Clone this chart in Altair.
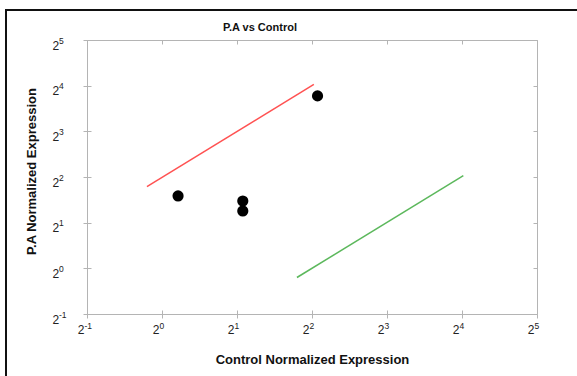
import altair as alt
import pandas as pd

# Data
ctrl = [1.16, 2.11, 2.11, 4.21]
pa = [3.0, 2.78, 2.39, 13.7]

red_x = [0.87, 4.07]
red_y = [3.46, 16.3]
green_x = [3.48, 16.2]
green_y = [0.87, 4.08]

tick_vals = [0.5, 1, 2, 4, 8, 16, 32]
tick_base = "2"
tick_exps = ["-1", "0", "1", "2", "3", "4", "5"]

pts = pd.DataFrame({"x": ctrl, "y": pa})
red_df = pd.DataFrame({"x": red_x, "y": red_y})
green_df = pd.DataFrame({"x": green_x, "y": green_y})

exp_expr = "{" + ",".join(f"'{v}':'{e}'" for v, e in zip(tick_vals, tick_exps)) + "}[datum.value]"
base_expr = f"'{tick_base}'"

FONT = "Liberation Sans"
GREY = "#b4b4b4"
LAB = "#222222"
W, H = 450, 274
BASE_FS = 12
EXP_FS = 8.5

xs = alt.Scale(type="log", base=2, domain=[0.5, 32], nice=False)
ys = alt.Scale(type="log", base=2, domain=[0.5, 32], nice=False)

common = dict(values=tick_vals, grid=False, labelFlush=False, labelOverlap=False,
              labelBound=False, labelFont=FONT, labelColor=LAB)

# main axes: domain, outward ticks, base "2" labels, titles
x_main = alt.Axis(labelExpr=base_expr, title="Control Normalized Expression",
                  domainColor=GREY, tickColor=GREY, tickSize=4,
                  labelFontSize=BASE_FS, labelAlign="right", labelBaseline="alphabetic",
                  labelPadding=15, labelOffset=-3,
                  titleFont=FONT, titleFontSize=13, titleFontWeight="bold", titleColor="#111",
                  titleY=49, titleBaseline="alphabetic", **common)
y_main = alt.Axis(labelExpr=base_expr, title="P.A Normalized Expression",
                  domainColor=GREY, tickColor=GREY, tickSize=4,
                  labelFontSize=BASE_FS, labelAlign="left", labelBaseline="alphabetic",
                  labelPadding=31, labelOffset=9,
                  titleFont=FONT, titleFontSize=13, titleFontWeight="bold", titleColor="#111",
                  titleX=-56, titleY=131, titleAngle=-90, titleAlign="center", titleBaseline="middle",
                  **common)
# frame axes at top and right (inward ticks)
x_top = alt.Axis(orient="bottom", offset=-H, labels=False, title=None,
                 domainColor=GREY, tickColor=GREY, tickSize=4, **common)
y_right = alt.Axis(orient="left", offset=-W, labels=False, title=None,
                   domainColor=GREY, tickColor=GREY, tickSize=4, **common)
# inner halves of crossing ticks + exponent labels
x_in = alt.Axis(orient="bottom", offset=-4, labelExpr=exp_expr, title=None,
                domain=False, tickColor=GREY, tickSize=4,
                labelFontSize=EXP_FS, labelAlign="left", labelBaseline="alphabetic",
                labelPadding=14, labelOffset=-3, **common)
y_in = alt.Axis(orient="left", offset=-4, labelExpr=exp_expr, title=None,
                domain=False, tickColor=GREY, tickSize=4,
                labelFontSize=EXP_FS, labelAlign="left", labelBaseline="alphabetic",
                labelPadding=28.5, labelOffset=3, **common)

points = alt.Chart(pts).mark_circle(size=125, color="black", opacity=1).encode(
    x=alt.X("x:Q", scale=xs, axis=x_main),
    y=alt.Y("y:Q", scale=ys, axis=y_main),
)
red = alt.Chart(red_df).mark_line(color="#ff5252", strokeWidth=1.5).encode(
    x=alt.X("x:Q", scale=xs, axis=x_top),
    y=alt.Y("y:Q", scale=ys, axis=y_right),
)
green = alt.Chart(green_df).mark_line(color="#5cb85c", strokeWidth=1.5).encode(
    x=alt.X("x:Q", scale=xs, axis=x_in),
    y=alt.Y("y:Q", scale=ys, axis=y_in),
)
one = pd.DataFrame({"a": [0]})
border_left = alt.Chart(one).mark_rule(color="#111", strokeWidth=2).encode(
    x=alt.value(-81), y=alt.value(-31), y2=alt.value(340))
border_top = alt.Chart(one).mark_rule(color="#111", strokeWidth=2).encode(
    y=alt.value(-30), x=alt.value(-82), x2=alt.value(495))

chart = alt.layer(points, red, green, border_left, border_top).resolve_axis(
    x="independent", y="independent"
).properties(
    width=W, height=H,
    title=alt.TitleParams("P.A vs Control", font=FONT, fontSize=11, fontWeight="bold",
                          color="#111", anchor="middle", dx=-52, dy=34, offset=9),
    autosize=alt.AutoSizeParams(type="none"),
    padding={"left": 87, "top": 40, "right": 40, "bottom": 62},
).configure_view(stroke=None).configure(background="white")

chart.save("out.html", embed_options={"renderer": "svg", "actions": False})
